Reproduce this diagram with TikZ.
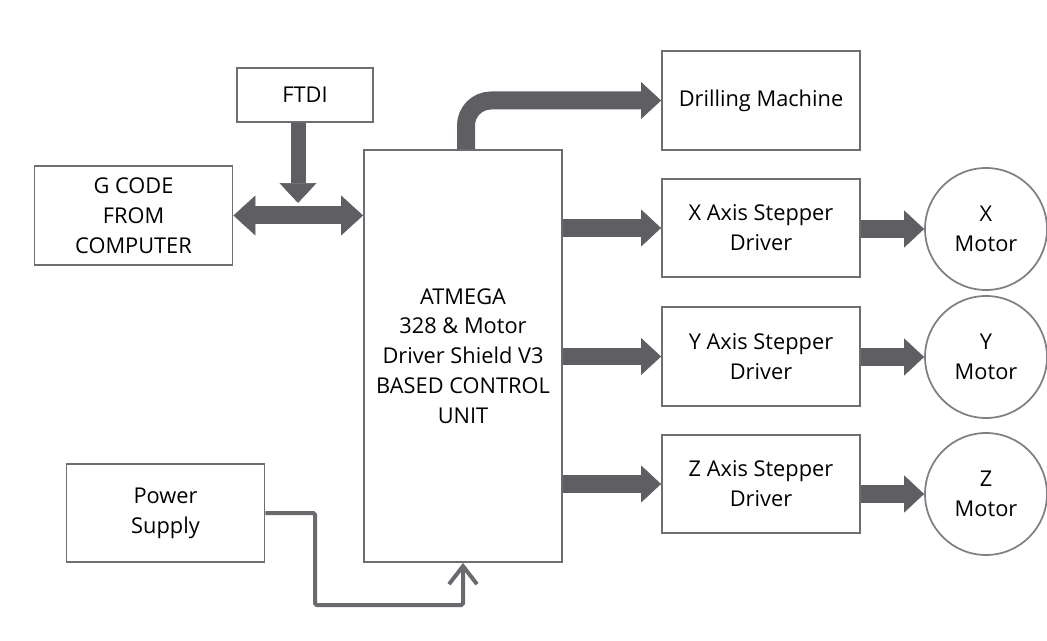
\documentclass[tikz,border=0pt]{standalone}
\usepackage{fontspec}
\setmainfont{Open Sans}
\usetikzlibrary{arrows.meta}
\definecolor{boxline}{HTML}{6E6E72}
\definecolor{motorline}{HTML}{808084}
\definecolor{arrowfill}{HTML}{5F5E63}
\definecolor{wireline}{HTML}{6A6A6E}
\tikzset{
    blockbox/.style={draw=boxline, line width=1.1pt, align=center, inner sep=0pt,
        font=\fontsize{12.4}{17}\selectfont, minimum width=3.96cm, minimum height=1.97cm},
    motorcircle/.style={draw=motorline, line width=1pt, circle, align=center, inner sep=0pt,
        font=\fontsize{12.4}{17}\selectfont, minimum size=2.44cm},
    blockarrow/.style={draw=arrowfill, line width=0.36cm,
        -{Triangle[length=0.4cm, width=0.74cm, line width=0.4pt]}},
    powerline/.style={draw=wireline, line width=0.08cm, rounded corners=1pt,
        -{Straight Barb[length=0.36cm, width=0.56cm, line width=0.08cm]}}
}
\begin{document}
\begin{tikzpicture}[x=0.02cm, y=-0.02cm]
            \useasboundingbox (0,0) rectangle (1047,641);

            % Blocks
            \node[blockbox, minimum width=2.72cm, minimum height=1.08cm] (ftdi) at (305,95) {FTDI};
            \node[blockbox] (gcode) at (133.5,215.5) {G CODE\\FROM\\COMPUTER};
            \node[blockbox, minimum height=8.24cm] (main) at (463,356)
                {ATMEGA\\328 \& Motor\\Driver Shield V3\\BASED CONTROL\\UNIT};
            \node[blockbox] (power) at (165.5,513) {Power\\Supply};
            \node[blockbox] (drill) at (761,100.5) {Drilling Machine};
            \node[blockbox] (xdrv) at (761,228) {X Axis Stepper\\Driver};
            \node[blockbox] (ydrv) at (761,356.5) {Y Axis Stepper\\Driver};
            \node[blockbox] (zdrv) at (761,484) {Z Axis Stepper\\Driver};

            % Motors
            \node[motorcircle] (xmot) at (986,229) {X\\Motor};
            \node[motorcircle] (ymot) at (986,357) {Y\\Motor};
            \node[motorcircle] (zmot) at (986,494) {Z\\Motor};

            % Helper points
            \coordinate (ftdijoin) at (298,203);
            \coordinate (drillup) at (466,0);
            \coordinate (pwrbend) at (315,605);

            % Computer link
            \draw[blockarrow, {Triangle[length=0.44cm, width=0.8cm, line width=0.4pt]}-{Triangle[length=0.44cm, width=0.8cm, line width=0.4pt]}]
                (gcode.east) -- (gcode.east -| main.west);
            \draw[blockarrow, line width=0.3cm] (ftdi.south -| ftdijoin) -- (ftdijoin);

            % Outputs
            \draw[blockarrow, rounded corners=0.5cm] (main.north -| drillup) |- (drill.west);
            \draw[blockarrow] (main.east |- xdrv) -- (xdrv.west);
            \draw[blockarrow] (main.east |- ydrv) -- (ydrv.west);
            \draw[blockarrow] (main.east |- zdrv) -- (zdrv.west);
            \draw[blockarrow] (xdrv.east |- xmot) -- (xmot.west);
            \draw[blockarrow] (ydrv.east |- ymot) -- (ymot.west);
            \draw[blockarrow] (zdrv.east |- zmot) -- (zmot.west);

            % Supply
            \draw[powerline] (power.east) -| (pwrbend) -| (main.south);
        \end{tikzpicture}
\end{document}
